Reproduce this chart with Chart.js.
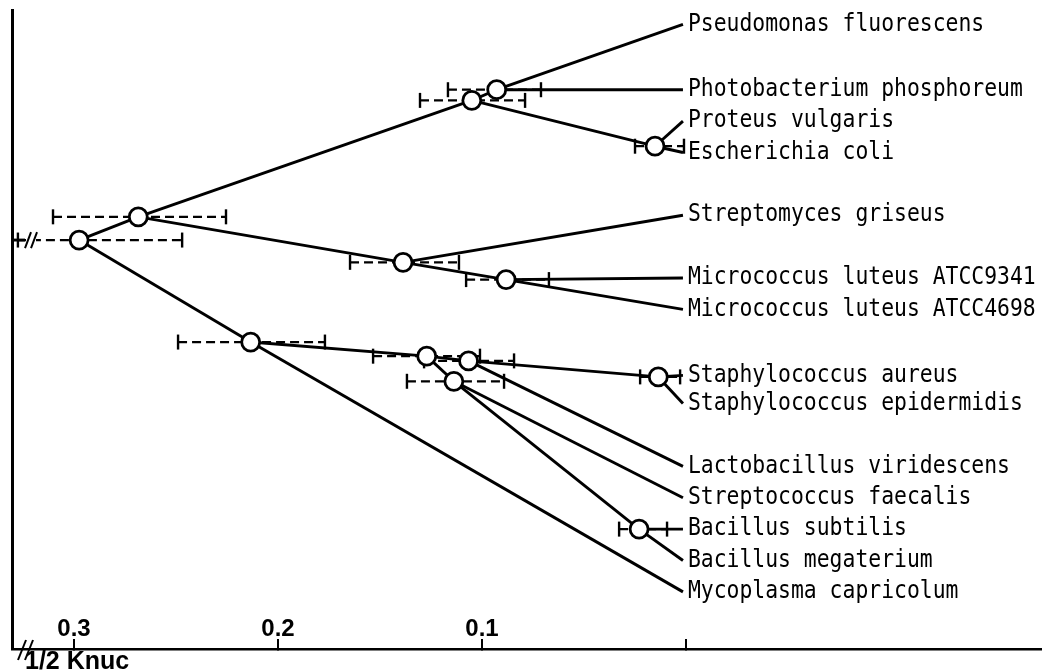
<!DOCTYPE html>
<html><head><meta charset="utf-8">
<script src="https://cdn.jsdelivr.net/npm/chart.js@4"></script>
<style>html,body{margin:0;padding:0;background:#fff;overflow:hidden;}canvas{display:block;}</style>
</head><body><canvas id="c" width="1042" height="671"></canvas>
<script>
// ---- axis ----
const tickValues = [0.3, 0.2, 0.1, 0];
const tickLabels = ['0.3', '0.2', '0.1', ''];
const axisTitle = '1/2 Knuc';
const xMin = -0.1745, xMax = 0.3304;     // distance range of the plot
const rowMin = -0.54, rowMax = 19.82;     // vertical row range (top..bottom)

// ---- leaves (species) ----
const leafNames = ['Pseudomonas fluorescens','Photobacterium phosphoreum','Proteus vulgaris','Escherichia coli',
  'Streptomyces griseus','Micrococcus luteus ATCC9341','Micrococcus luteus ATCC4698',
  'Staphylococcus aureus','Staphylococcus epidermidis','Lactobacillus viridescens','Streptococcus faecalis',
  'Bacillus subtilis','Bacillus megaterium','Mycoplasma capricolum'];
const leafDist = [0.0015,0.0015,0.0015,0.0015,0.0015,0.0015,0.0015,0.0015,0.0015,0.0015,0.0015,0.0015,0.0015,0.0015];
const leafRow  = [-0.08, 2.0, 3.0, 4.0, 6.0, 8.0, 9.0, 11.1, 12.0, 14.0, 15.0, 16.0, 17.0, 18.0];

// ---- internal nodes ----
const nodeNames = ['root','A','B','C','D','E','F','G','H','I','J','K','L'];
const nodeDist  = [0.2975,0.2685,0.105,0.0928,0.0152,0.1387,0.0882,0.2134,0.1271,0.1066,0.1138,0.0136,0.023];
const nodeRow   = [6.79, 6.05, 2.34, 2.0, 3.80, 7.50, 8.05, 10.04, 10.49, 10.64, 11.29, 11.15, 16.0];
const errLow    = [0.247, 0.2255,0.0789,0.0711,0.001,0.1113,0.0672,0.177,0.101,0.0843,0.0892,0.0029,0.0093];
const errHigh   = [0.3275,0.3103,0.1304,0.1167,0.025,0.1647,0.1078,0.249,0.1534,0.1284,0.1368,0.0225,0.0328];

// ---- branches (parent, child) ----
const edgeParent = ['root','root','A','A','B','B','C','C','D','D','E','E','F','F','G','G','H','H','I','I','J','J','K','K','L','L'];
const edgeChild  = ['A','G','B','E','C','D','Pseudomonas fluorescens','Photobacterium phosphoreum','Proteus vulgaris','Escherichia coli',
  'Streptomyces griseus','F','Micrococcus luteus ATCC9341','Micrococcus luteus ATCC4698','H','Mycoplasma capricolum',
  'I','J','K','Lactobacillus viridescens','Streptococcus faecalis','L','Staphylococcus aureus','Staphylococcus epidermidis',
  'Bacillus subtilis','Bacillus megaterium'];
const stemEnd = 0.324;

const pos = {};
leafNames.forEach((n,i)=>pos[n]={x:leafDist[i],y:leafRow[i]});
nodeNames.forEach((n,i)=>pos[n]={x:nodeDist[i],y:nodeRow[i]});

const datasets = [];
datasets.push({label:'nodes', order:0, showLine:false,
  data: nodeNames.map(n=>({x:pos[n].x,y:pos[n].y})),
  pointRadius:9, pointBackgroundColor:'#fff', pointBorderColor:'#000', pointBorderWidth:2.8});
nodeNames.forEach((n,i)=>{
  datasets.push({label:'err '+n, order:1, showLine:true,
    data:[{x:errHigh[i],y:nodeRow[i]},{x:errLow[i],y:nodeRow[i]}],
    borderColor:'#000', borderWidth:2.2, borderDash:[9,5],
    pointStyle:'line', rotation:90, pointRadius:7.5, pointBorderWidth:2.4, pointBorderColor:'#000'});
});
edgeParent.forEach((p,i)=>{
  const c = edgeChild[i];
  datasets.push({label:p+'-'+c, order:2, showLine:true,
    data:[{x:pos[p].x,y:pos[p].y},{x:pos[c].x,y:pos[c].y}],
    borderColor:'#000', borderWidth:2.9, pointRadius:0});
});
datasets.push({label:'stem', order:2, showLine:true,
  data:[{x:xMax,y:nodeRow[0]},{x:stemEnd,y:nodeRow[0]}],
  borderColor:'#000', borderWidth:2.9, pointRadius:0});

const decor = {
  id:'decor',
  afterDraw(chart){
    const {ctx, chartArea, scales:{x,y}} = chart;
    ctx.save();
    ctx.fillStyle='#000'; ctx.strokeStyle='#000';
    ctx.textBaseline='middle'; ctx.textAlign='left';
    ctx.font='21.4px "DejaVu Sans Mono"';
    leafNames.forEach((n,i)=>{
      const px = x.getPixelForValue(leafDist[i])+5, py = y.getPixelForValue(leafRow[i]);
      ctx.save(); ctx.translate(px, py); ctx.scale(1, 1.12);
      ctx.fillText(n, 0, 0); ctx.restore();
    });
    ctx.font='bold 25px "Liberation Sans"';
    ctx.textBaseline='top';
    ctx.fillText(axisTitle, chartArea.left+13, chartArea.bottom+1);
    // axis break
    ctx.lineWidth=2;
    const b = chartArea.bottom, l = chartArea.left;
    [6,13].forEach(d=>{ctx.beginPath();ctx.moveTo(l+d,b+11);ctx.lineTo(l+d+8,b-9);ctx.stroke();});
    // stem break
    const ry = y.getPixelForValue(nodeRow[0]);
    ctx.fillStyle='#fff'; ctx.fillRect(l+14, ry-3, 10, 6);
    [13,19].forEach(d=>{ctx.beginPath();ctx.moveTo(l+d,ry+8);ctx.lineTo(l+d+6,ry-8);ctx.stroke();});
    ctx.restore();
  }
};

new Chart(document.getElementById('c'), {
  type:'scatter',
  data:{datasets},
  options:{
    responsive:false, animation:false, events:[], devicePixelRatio:1,
    layout:{autoPadding:false, padding:{left:12,right:0,top:10,bottom:22}},
    plugins:{legend:{display:false}, tooltip:{enabled:false}},
    scales:{
      x:{type:'linear', reverse:true, min:xMin, max:xMax, position:'bottom',
        afterBuildTicks:(s)=>{s.ticks = tickValues.map(v=>({value:v}));},
        afterFit:(s)=>{s.paddingLeft=0; s.paddingRight=0;},
        border:{display:true,color:'#000',width:2.5},
        grid:{display:true, drawOnChartArea:false, drawTicks:true, tickLength:-10, color:'#000', lineWidth:2},
        ticks:{mirror:true, padding:5, autoSkip:false, maxRotation:0, color:'#000',
          font:{family:'"Liberation Sans"', size:24, weight:'bold'},
          callback:(v)=>{const k=tickValues.findIndex(t=>Math.abs(t-v)<1e-9);return k<0?'':tickLabels[k];}}
      },
      y:{type:'linear', reverse:true, min:rowMin, max:rowMax,
        afterFit:(s)=>{s.paddingTop=0; s.paddingBottom=0;},
        border:{display:true,color:'#000',width:3},
        grid:{display:true, drawOnChartArea:false, drawTicks:false},
        ticks:{display:false}
      }
    }
  },
  plugins:[decor]
});
</script>
</body></html>
